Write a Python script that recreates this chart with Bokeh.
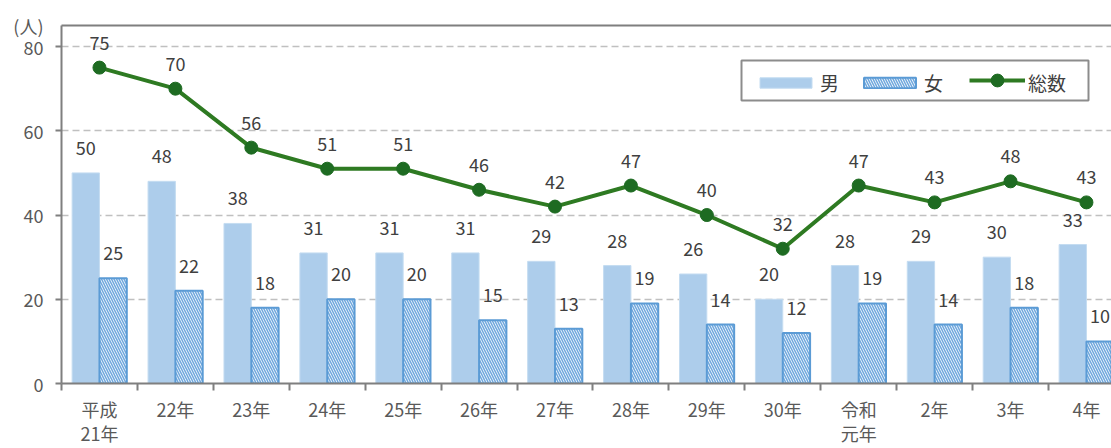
from bokeh.plotting import figure
from bokeh.models import (ColumnDataSource, FixedTicker, LinearAxis, Legend, LegendItem,
                          BoxAnnotation, Range1d)
from bokeh.embed import file_html
from bokeh.resources import INLINE
from bokeh.core.properties import value

categories = ["平成\n21年", "22年", "23年", "24年", "25年", "26年", "27年", "28年",
              "29年", "30年", "令和\n元年", "2年", "3年", "4年"]
male = [50, 48, 38, 31, 31, 31, 29, 28, 26, 20, 28, 29, 30, 33]
female = [25, 22, 18, 20, 20, 15, 13, 19, 14, 12, 19, 14, 18, 10]
total = [75, 70, 56, 51, 51, 46, 42, 47, 40, 32, 47, 43, 48, 43]
y_ticks = [0, 20, 40, 60, 80]
y_unit_label = "(人)"

FONT = "Noto Sans CJK JP"
LBL = "#404040"
TICK = "#595959"
AX = "#7f7f7f"

n = len(categories)
xc = [i + 0.5 for i in range(n)]
src = ColumnDataSource(dict(
    x=xc,
    xm=[v - 0.18 for v in xc],
    xf=[v + 0.18 for v in xc],
    male=male, female=female, total=total,
    ml=[str(v) for v in male], fl=[str(v) for v in female], tl=[str(v) for v in total],
))

YMAX = 85
p = figure(width=1111, height=448, output_backend="svg", toolbar_location=None,
           x_range=Range1d(0, 13.83), y_range=Range1d(0, YMAX),
           min_border_left=61, min_border_right=0, min_border_top=25, min_border_bottom=63)
p.outline_line_color = None
p.background_fill_color = "white"
p.border_fill_color = "white"

bm = p.vbar(x="xm", top="male", width=0.36, source=src, fill_color="#ADCDEB",
            line_color="#C4DCF1", line_width=1)
bf = p.vbar(x="xf", top="female", width=0.36, source=src, fill_color="white",
            line_color="#5B9BD5", line_width=2, hatch_pattern="\\", hatch_color="#72A9DE",
            hatch_scale=5, hatch_weight=1.6)
ln = p.line(x="x", y="total", source=src, line_color="#2E7A22", line_width=4)
sc = p.scatter(x="x", y="total", source=src, size=13, fill_color="#1E6B22",
               line_color="#1E6B22")

common = dict(text_font=value(FONT), text_font_size="18px", text_color=LBL,
              text_align="center", text_baseline="middle", y_offset=-25, source=src)
p.text(x="xm", y="male", text="ml", **common)
p.text(x="xf", y="female", text="fl", **common)
p.text(x="x", y="total", text="tl", **common)

# x axis: first label line at category centres, ticks at category boundaries
first_lines = [c.split("\n")[0] for c in categories]
second_lines = {v: c.split("\n")[1] for v, c in zip(xc, categories) if "\n" in c}

xa = p.xaxis[0]
xa.ticker = FixedTicker(ticks=xc, minor_ticks=list(range(n + 1)))
xa.major_label_overrides = {v: c for v, c in zip(xc, first_lines)}
xa.major_tick_line_color = None
xa.major_tick_out = 0
xa.major_tick_in = 0
xa.minor_tick_line_color = AX
xa.minor_tick_line_width = 2
xa.minor_tick_out = 7
xa.minor_tick_in = 0
xa.axis_line_color = AX
xa.axis_line_width = 2
xa.major_label_standoff = 5
xa.major_label_text_font = FONT
xa.major_label_text_font_size = "18px"
xa.major_label_text_color = TICK

# second label line as a plain axis below
xa2 = LinearAxis(ticker=FixedTicker(ticks=list(second_lines.keys())),
                 major_label_overrides=second_lines,
                 axis_line_color=None, major_tick_line_color=None, minor_tick_line_color=None,
                 major_tick_out=0, major_tick_in=0, minor_tick_out=0, minor_tick_in=0,
                 major_label_standoff=-5,
                 major_label_text_font=FONT, major_label_text_font_size="18px",
                 major_label_text_color=TICK)
p.add_layout(xa2, "below")

# y axis: unit label placed as the top tick label
ya = p.yaxis[0]
ya.ticker = FixedTicker(ticks=y_ticks + [YMAX], minor_ticks=y_ticks)
ya.major_label_overrides = {YMAX: y_unit_label}
ya.major_tick_line_color = None
ya.major_tick_out = 0
ya.major_tick_in = 0
ya.minor_tick_line_color = AX
ya.minor_tick_line_width = 2
ya.minor_tick_out = 6
ya.minor_tick_in = 0
ya.axis_line_color = AX
ya.axis_line_width = 2
ya.major_label_standoff = 12
ya.major_label_text_font = FONT
ya.major_label_text_font_size = "18px"
ya.major_label_text_color = TICK

top_ax = LinearAxis(major_label_text_font_size="0px", major_tick_line_color=None,
                    minor_tick_line_color=None, axis_line_color=AX, axis_line_width=2,
                    major_label_standoff=0)
p.add_layout(top_ax, "above")

p.xgrid.grid_line_color = None
p.ygrid.ticker = FixedTicker(ticks=y_ticks)
p.ygrid.grid_line_color = "#C0C0C0"
p.ygrid.grid_line_width = 1.5
p.ygrid.grid_line_dash = "7 4"

# legend frame
p.add_layout(BoxAnnotation(left=680, right=1027, bottom=283, top=323,
                           left_units="screen", right_units="screen",
                           bottom_units="screen", top_units="screen",
                           fill_color="white", fill_alpha=1,
                           line_color="#8c8c8c", line_width=2, line_alpha=1))

dummy = p.line(x=[], y=[], line_alpha=0)
leg1 = Legend(items=[LegendItem(label="男", renderers=[bm]),
                     LegendItem(label="女", renderers=[bf]),
                     LegendItem(label="総数", renderers=[dummy])],
              orientation="horizontal", location=(692, 287), glyph_width=65, glyph_height=13,
              label_standoff=2, spacing=17, padding=0, margin=0,
              label_text_font=FONT, label_text_font_size="19px", label_text_color=LBL,
              border_line_color=None, background_fill_alpha=0)
leg2 = Legend(items=[LegendItem(label=" ", renderers=[ln, sc])],
              orientation="horizontal", location=(908, 287), glyph_width=56, glyph_height=32,
              label_standoff=0, padding=0, margin=0, label_text_font_size="1px",
              border_line_color=None, background_fill_alpha=0)
p.add_layout(leg1)
p.add_layout(leg2)

open("out.html", "w").write(file_html(p, INLINE))
